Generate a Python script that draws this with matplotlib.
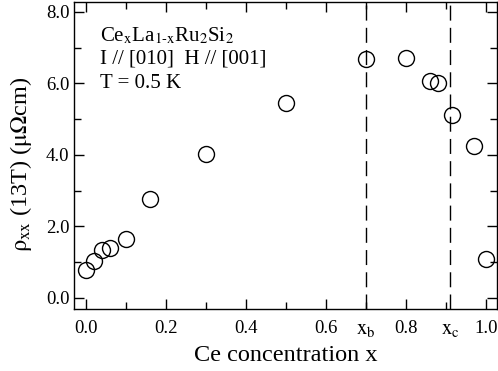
import matplotlib.pyplot as plt
from matplotlib.ticker import MultipleLocator

plt.rcParams['font.family'] = ['Liberation Serif', 'DejaVu Serif']
plt.rcParams['mathtext.fontset'] = 'stix'

# Ce concentration x and rho_xx at 13 T (micro-ohm cm)
ce_conc = [0.0, 0.02, 0.04, 0.06, 0.10, 0.16, 0.30, 0.50, 0.70, 0.80, 0.86, 0.88, 0.915, 0.97, 1.0]
rho_xx = [0.77, 1.03, 1.34, 1.41, 1.64, 2.78, 4.03, 5.44, 6.69, 6.72, 6.07, 6.01, 5.12, 4.24, 1.08]

# critical concentrations marked with dashed lines
crit_x = [0.70, 0.91]
crit_labels = [r'$\mathrm{x_b}$', r'$\mathrm{x_c}$']

fig = plt.figure(figsize=(4.98, 3.71), dpi=100)
ax = fig.add_axes([0.149, 0.167, 0.849, 0.828])

ax.plot(ce_conc, rho_xx, 'o', markersize=11.5, markerfacecolor='none',
        markeredgecolor='black', markeredgewidth=1.0)

for xc, lab in zip(crit_x, crit_labels):
    ax.axvline(xc, color='black', linestyle=(0, (10.8, 5.2)), linewidth=1.0)
    ax.text(xc, -0.035, lab, transform=ax.get_xaxis_transform(),
            ha='center', va='top', fontsize=15)

ax.set_xlim(-0.03, 1.0275)
ax.set_ylim(-0.31, 8.28)
ax.xaxis.set_major_locator(MultipleLocator(0.2))
ax.xaxis.set_minor_locator(MultipleLocator(0.1))
ax.yaxis.set_major_locator(MultipleLocator(2.0))
ax.yaxis.set_minor_locator(MultipleLocator(1.0))
ax.xaxis.set_major_formatter(lambda v, p: f"{v:.1f}")
ax.yaxis.set_major_formatter(lambda v, p: f"{v:.1f}")
ax.tick_params(which='both', direction='in', top=True, right=True, labelsize=13.5)
ax.tick_params(which='major', length=7, width=1.0)
ax.tick_params(which='minor', length=5, width=1.0)
ax.tick_params(axis='x', pad=8)

for s in ax.spines.values():
    s.set_linewidth(1.0)

ax.set_xlabel('Ce concentration x', fontsize=17.5, labelpad=6)
ax.set_ylabel(r'$\mathrm{\rho_{xx}}$ (13T) ($\mathrm{\mu\Omega}$cm)', fontsize=17.5, labelpad=3)
ax.yaxis.set_label_coords(-0.095, 0.47)

ax.text(0.035, 7.19, r'Ce$_\mathrm{x}$La$_{\mathrm{1\text{-}x}}$Ru$_\mathrm{2}$Si$_\mathrm{2}$', fontsize=15, va='baseline')
ax.text(0.035, 6.57, 'I // [010]  H // [001]', fontsize=15, va='baseline')
ax.text(0.035, 5.87, 'T = 0.5 K', fontsize=15, va='baseline')

fig.savefig('out.png', dpi=100)
